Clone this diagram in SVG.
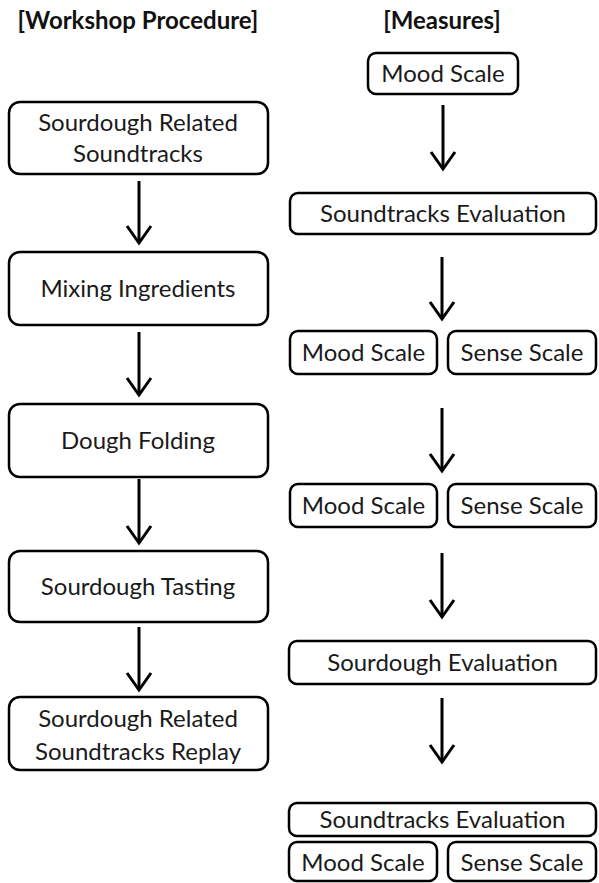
<svg xmlns="http://www.w3.org/2000/svg" width="599" height="883" viewBox="0 0 599 883">
<style>
.box{fill:#fff;stroke:#000;stroke-width:2.5}
.t{font-family:Lato,"Open Sans",sans-serif;font-size:24px;fill:#1a1a1a;text-anchor:middle}
.h{font-family:Lato,"Open Sans",sans-serif;font-size:24px;font-weight:bold;fill:#111;text-anchor:middle}
.c{stroke:#000;stroke-width:3;fill:none;marker-end:url(#ah)}
</style>
<defs>
<marker id="ah" markerUnits="userSpaceOnUse" markerWidth="40" markerHeight="40" refX="0" refY="0" orient="auto" viewBox="-20 -20 40 40" overflow="visible">
<path d="M-17,-12 L0,0 L-17,12" fill="none" stroke="#000" stroke-width="3" stroke-linejoin="miter"/>
</marker>
</defs>
<rect width="599" height="883" fill="#fff"/>
<g id="title-left"><text class="h" x="138" y="29">[Workshop Procedure]</text></g>
<g id="title-right"><text class="h" x="442" y="29">[Measures]</text></g>

<g id="n1"><rect class="box" x="9" y="102" width="259" height="72" rx="11"/><text class="t" x="138" y="131">Sourdough Related</text><text class="t" x="138" y="162">Soundtracks</text></g>
<g id="n2"><rect class="box" x="9" y="252" width="259" height="73" rx="11"/><text class="t" x="138" y="297">Mixing Ingredients</text></g>
<g id="n3"><rect class="box" x="9" y="404" width="259" height="73" rx="11"/><text class="t" x="138" y="449">Dough Folding</text></g>
<g id="n4"><rect class="box" x="9" y="551" width="259" height="71" rx="11"/><text class="t" x="138" y="595">Sourdough Tasting</text></g>
<g id="n5"><rect class="box" x="9" y="697" width="259" height="73" rx="11"/><text class="t" x="138" y="727">Sourdough Related</text><text class="t" x="138" y="760">Soundtracks Replay</text></g>

<g id="m1"><rect class="box" x="368" y="53" width="150" height="41" rx="8"/><text class="t" x="443" y="82">Mood Scale</text></g>
<g id="m2"><rect class="box" x="290" y="193" width="306" height="41" rx="8"/><text class="t" x="443" y="222">Soundtracks Evaluation</text></g>
<g id="m3a"><rect class="box" x="290" y="331" width="147" height="43" rx="8"/><text class="t" x="363.5" y="361">Mood Scale</text></g>
<g id="m3b"><rect class="box" x="448" y="331" width="148" height="43" rx="8"/><text class="t" x="522" y="361">Sense Scale</text></g>
<g id="m4a"><rect class="box" x="290" y="484" width="147" height="43" rx="8"/><text class="t" x="363.5" y="514">Mood Scale</text></g>
<g id="m4b"><rect class="box" x="448" y="484" width="148" height="43" rx="8"/><text class="t" x="522" y="514">Sense Scale</text></g>
<g id="m5"><rect class="box" x="289" y="641" width="307" height="43" rx="8"/><text class="t" x="442.5" y="671">Sourdough Evaluation</text></g>
<g id="m6"><rect class="box" x="289" y="803" width="307" height="33" rx="8"/><text class="t" x="442.5" y="828">Soundtracks Evaluation</text></g>
<g id="m7a"><rect class="box" x="289" y="842" width="148" height="39" rx="8"/><text class="t" x="363" y="871">Mood Scale</text></g>
<g id="m7b"><rect class="box" x="448" y="842" width="148" height="39" rx="8"/><text class="t" x="522" y="871">Sense Scale</text></g>

<g id="connectors">
<line class="c" x1="139" y1="181" x2="139" y2="243"/>
<line class="c" x1="139" y1="332" x2="139" y2="395"/>
<line class="c" x1="139" y1="479" x2="139" y2="543"/>
<line class="c" x1="139" y1="627" x2="139" y2="690"/>
<line class="c" x1="443" y1="105" x2="443" y2="169"/>
<line class="c" x1="442" y1="257" x2="442" y2="319"/>
<line class="c" x1="442" y1="408" x2="442" y2="471"/>
<line class="c" x1="442" y1="553" x2="442" y2="617"/>
<line class="c" x1="442" y1="698" x2="442" y2="762"/>
</g>
</svg>
